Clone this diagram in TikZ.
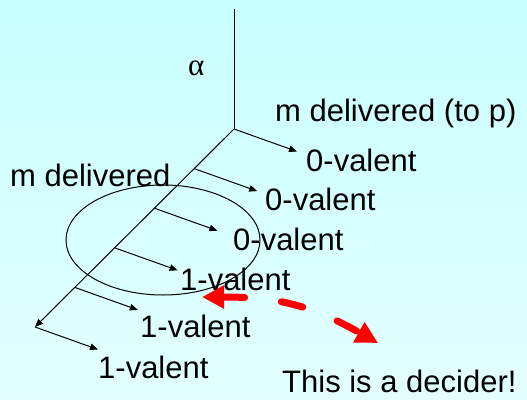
\documentclass[tikz,border=0pt]{standalone}
\usepackage{fontspec}
\setmainfont{Liberation Sans}
\newfontfamily\greekfont{Liberation Serif}
\usetikzlibrary{arrows.meta,positioning}
\definecolor{Sky}{HTML}{C9FFFF}
\definecolor{Foam}{HTML}{E3FFFF}
\definecolor{Alarm}{HTML}{FF0000}

\tikzset{
  run/.style={line width=1pt},
  branch/.style={run,-{Triangle[length=8pt,width=6.5pt]}},
  valent/.style={anchor=base west,inner sep=0pt,font=\fontsize{31}{36}\selectfont},
}

\begin{document}
\begin{tikzpicture}[x=1pt,y=-1pt]
    \shade[top color=Sky,bottom color=Foam] (0,0) rectangle (527,399);
    \useasboundingbox (0,0) rectangle (527,399);

    % run alpha and the extension that delivers m
    \coordinate (top) at (234,9);
    \coordinate (root) at (234,129);
    \coordinate (tail) at (35,327);
    \draw[run] (top) -- (root);
    \draw[branch] (root) -- (tail);
    \node[valent,font=\fontsize{31}{36}\selectfont\greekfont] (alpha) at (188,75) {α};

    \foreach \n/\x/\y in {0/234/129,1/194.2/168.6,2/154.4/208.2,3/114.6/247.8,4/74.8/287.4,5/35/327}{
      \coordinate (s\n) at (\x,\y);
      \coordinate (e\n) at (\x+63,\y+22.5);
      \draw[branch] (s\n) -- (e\n);
    }

    \node[valent] (mp) at (275,121) {m delivered (to p)};
    \node[valent] (m) at (10,186) {m delivered};

    \node[valent] (v0) at (306,171) {0-valent};
    \node[valent] (v1) at (265,210) {0-valent};
    \node[valent] (v2) at (233,250) {0-valent};
    \node[valent] (v3) at (180,290) {1-valent};
    \node[valent] (v4) at (140,337) {1-valent};
    \node[valent] (v5) at (98,378) {1-valent};

    \draw[run] (163,240) ellipse [x radius=97,y radius=55];

    % the decider
    \node[valent] (decider) at (282,392) {This is a decider!};
    \coordinate (hit) at (202,297);
    \coordinate (far) at (378,343);
    \draw[Alarm,line width=7pt,line cap=round,dash pattern=on 22pt off 37pt,
      {Triangle[length=22pt,width=22pt]}-{Triangle[length=22pt,width=22pt]}]
      (hit) .. controls (280,297) and (312,306) .. (far);
\end{tikzpicture}
\end{document}
